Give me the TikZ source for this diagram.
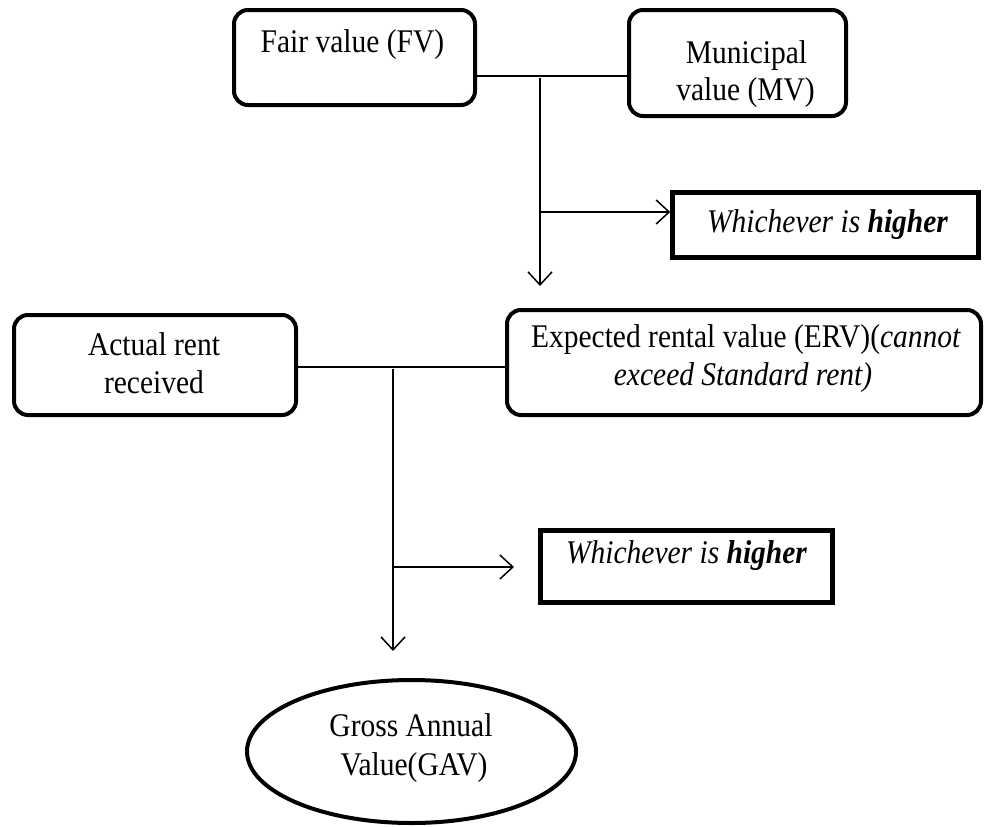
\documentclass[tikz,border=0pt]{standalone}
\usepackage{fontspec}
\setmainfont{Liberation Serif}
\usetikzlibrary{arrows.meta,shapes.geometric}
\newcommand{\tallt}[1]{\scalebox{1}[1.12]{#1}}
\begin{document}
\begin{tikzpicture}[x=1pt,y=-1pt,
  rbox/.style={draw,line width=4pt,rounded corners=14pt,inner sep=0pt},
  sbox/.style={draw,line width=4.5pt,inner sep=0pt},
  oval/.style={draw,ellipse,line width=4pt,inner sep=0pt},
  txt/.style={anchor=base,inner sep=0pt,font=\fontsize{29.5}{38}\selectfont},
  conn/.style={line width=1.5pt},
  arr/.style={line width=1.5pt,-{Straight Barb[length=13pt,width=24pt,line width=1.5pt]}}]
\useasboundingbox (0,0) rectangle (985,827);
% boxes
\node[rbox,minimum width=241pt,minimum height=95pt] (fv) at (354.5,57.5) {};
\node[rbox,minimum width=217pt,minimum height=106pt] (mv) at (737.5,63) {};
\node[sbox,minimum width=306pt,minimum height=65pt] (w1) at (825.5,225) {};
\node[rbox,minimum width=282pt,minimum height=100pt] (ar) at (155,365) {};
\node[rbox,minimum width=474pt,minimum height=105pt] (erv) at (744,362.5) {};
\node[sbox,minimum width=292pt,minimum height=72pt] (w2) at (686.5,566.5) {};
\node[oval,minimum width=329pt,minimum height=143pt] (gav) at (411.5,751.5) {};
% texts
\node[txt] (fvt) at (352.5,52) {\tallt{Fair value (FV)}};
\node[txt] (mvt1) at (746.5,63) {\tallt{Municipal}};
\node[txt] (mvt2) at (745.5,100) {\tallt{value (MV)}};
\node[txt] (w1t) at (827.5,232) {\tallt{\itshape Whichever is \textbf{higher}}};
\node[txt] (art1) at (154,355) {\tallt{Actual rent}};
\node[txt] (art2) at (154,393) {\tallt{received}};
\node[txt] (ervt1) at (746,347) {\tallt{Expected rental value (ERV)(\textit{cannot}}};
\node[txt] (ervt2) at (743,385) {\tallt{\itshape exceed Standard rent)}};
\node[txt] (w2t) at (686.5,563) {\tallt{\itshape Whichever is \textbf{higher}}};
\node[txt] (gavt1) at (411,736) {\tallt{Gross Annual}};
\node[txt] (gavt2) at (414,775) {\tallt{Value(GAV)}};
% connectors
\coordinate (j1) at (540,76);
\coordinate (j1s) at (540,78);
\coordinate (d1) at (540,286);
\coordinate (b1) at (540,212);
\coordinate (j2) at (393,367);
\coordinate (j2s) at (393,369);
\coordinate (d2) at (393,651);
\coordinate (b2) at (393,567);
\coordinate (t2) at (514,567);
\draw[conn] (fv.east |- j1) -- (mv.west |- j1);
\draw[arr] (j1s) -- (d1);
\draw[arr] (b1) -- (w1.west |- b1);
\draw[conn] (ar.east |- j2) -- (erv.west |- j2);
\draw[arr] (j2s) -- (d2);
\draw[arr] (b2) -- (t2);
\end{tikzpicture}
\end{document}
